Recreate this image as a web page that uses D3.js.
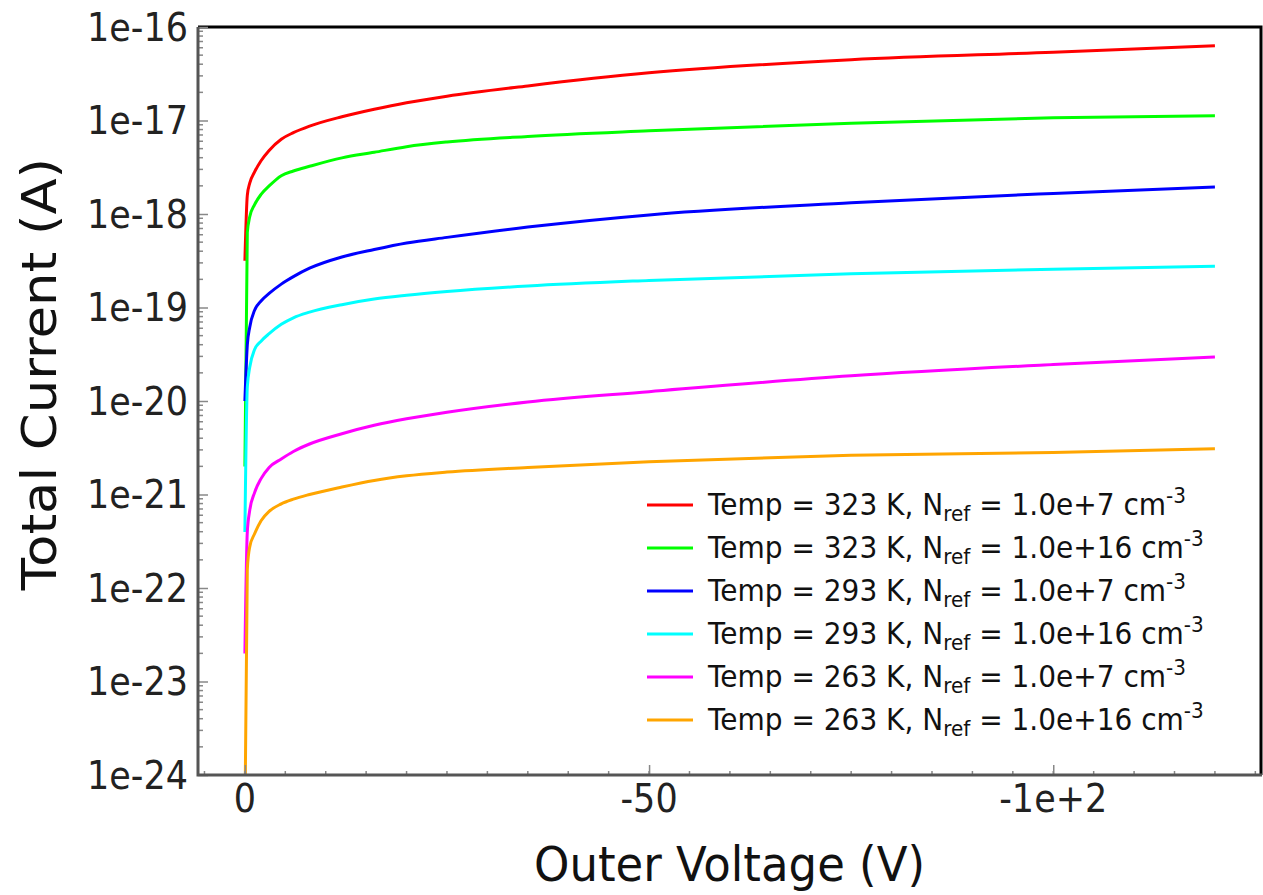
<!DOCTYPE html>
<html>
<head>
<meta charset="utf-8">
<script src="https://cdn.jsdelivr.net/npm/d3@7"></script>
<style>
  body { margin: 0; background: #fff; }
  text { font-family: "DejaVu Sans", sans-serif; }
</style>
</head>
<body>
<div id="chart"></div>
<script>
// outer voltage (V), shared by every curve
const voltage = [0, -0.3, -0.6, -1.2, -2, -3, -4.5, -6, -8, -12, -16, -20, -25, -35, -50, -75, -100, -120];

// log10 of the total current (A)
const t323_n7  = [-18.5, -17.8, -17.67, -17.55, -17.43, -17.32, -17.2, -17.13, -17.06, -16.96, -16.88, -16.81, -16.74, -16.63, -16.49, -16.35, -16.27, -16.2];
const t323_n16 = [-20.7, -18.2, -18.03, -17.9, -17.79, -17.7, -17.59, -17.54, -17.49, -17.4, -17.34, -17.28, -17.23, -17.17, -17.11, -17.03, -16.97, -16.95];
const t293_n7  = [-20.0, -19.4, -19.21, -19.03, -18.93, -18.85, -18.75, -18.67, -18.58, -18.46, -18.38, -18.31, -18.25, -18.14, -18.01, -17.88, -17.78, -17.71];
const t293_n16 = [-21.4, -19.85, -19.64, -19.45, -19.36, -19.28, -19.18, -19.11, -19.05, -18.97, -18.91, -18.87, -18.83, -18.77, -18.71, -18.64, -18.59, -18.56];
const t263_n7  = [-22.7, -21.4, -21.17, -20.98, -20.83, -20.71, -20.62, -20.54, -20.46, -20.35, -20.26, -20.19, -20.12, -20.01, -19.9, -19.73, -19.61, -19.53];
const t263_n16 = [-24.5, -21.8, -21.56, -21.42, -21.28, -21.18, -21.1, -21.05, -21.0, -20.92, -20.85, -20.8, -20.76, -20.71, -20.65, -20.58, -20.55, -20.51];

const temps = ["323", "323", "293", "293", "263", "263"];
const nrefs = ["1.0e+7", "1.0e+16", "1.0e+7", "1.0e+16", "1.0e+7", "1.0e+16"];
const colors = ["#ff0000", "#00ff00", "#0000ff", "#00ffff", "#ff00ff", "#ffa500"];
const seriesLogs = [t323_n7, t323_n16, t293_n7, t293_n16, t263_n7, t263_n16];

const yTickValues = [1e-24, 1e-23, 1e-22, 1e-21, 1e-20, 1e-19, 1e-18, 1e-17, 1e-16];
const yTickLabels = ["1e-24", "1e-23", "1e-22", "1e-21", "1e-20", "1e-19", "1e-18", "1e-17", "1e-16"];
const xTickValues = [0, -50, -100];
const xTickLabels = ["0", "-50", "-1e+2"];

const W = 1263, H = 895;
const plot = { left: 198, right: 1261, top: 27, bottom: 775 };
const stretch = 1.1; // text in the original is a bit taller than wide

const svg = d3.select("#chart").append("svg")
    .attr("width", W)
    .attr("height", H);

const x = d3.scaleLinear().domain([5.8, -125.7]).range([plot.left, plot.right]);
const y = d3.scaleLog().domain([1e-24, 1e-16]).range([plot.bottom, plot.top]);

svg.append("clipPath").attr("id", "clip")
    .append("rect")
    .attr("x", plot.left).attr("y", plot.top)
    .attr("width", plot.right - plot.left).attr("height", plot.bottom - plot.top);

// curves
const line = d3.line()
    .x(d => x(d.v))
    .y(d => y(d.i))
    .curve(d3.curveMonotoneX);

seriesLogs.forEach((logs, k) => {
    const pts = voltage.map((v, j) => ({ v: v, i: Math.pow(10, logs[j]) }));
    svg.append("path")
        .datum(pts)
        .attr("clip-path", "url(#clip)")
        .attr("fill", "none")
        .attr("stroke", colors[k])
        .attr("stroke-width", 3)
        .attr("d", line);
});

// frame: top & right in black
svg.append("path")
    .attr("d", `M${plot.left},${plot.top}H${plot.right}V${plot.bottom}`)
    .attr("fill", "none")
    .attr("stroke", "#000")
    .attr("stroke-width", 3);

// y minor ticks (log)
const yMinor = [];
for (let n = -24; n < -16; n++) {
    for (let k = 2; k <= 9; k++) yMinor.push(k * Math.pow(10, n));
}
svg.append("g").selectAll("line")
    .data(yMinor)
    .enter().append("line")
    .attr("x1", plot.left).attr("x2", plot.left + 5)
    .attr("y1", d => y(d)).attr("y2", d => y(d))
    .attr("stroke", "#888").attr("stroke-width", 1.5);

const yAxis = d3.axisRight(y)
    .tickValues(yTickValues)
    .tickSize(10)
    .tickFormat("");
svg.append("g")
    .attr("class", "y-axis")
    .attr("transform", "translate(" + plot.left + ",0)")
    .call(yAxis)
    .call(g => g.select(".domain").remove())
    .call(g => g.selectAll(".tick line").attr("stroke", "#888").attr("stroke-width", 1.5));

svg.append("g").selectAll("text")
    .data(yTickValues)
    .enter().append("text")
    .attr("transform", d => "translate(" + (plot.left - 10) + "," + y(d) + ") scale(1," + stretch + ")")
    .attr("dy", "0.36em")
    .attr("text-anchor", "end")
    .style("font-size", "35px")
    .attr("fill", "#222")
    .text((d, i) => yTickLabels[i]);

// x minor ticks every 5 V
const xMinor = d3.range(5, -126, -5);
svg.append("g").selectAll("line")
    .data(xMinor)
    .enter().append("line")
    .attr("x1", d => x(d)).attr("x2", d => x(d))
    .attr("y1", plot.bottom).attr("y2", plot.bottom - 4)
    .attr("stroke", "#888").attr("stroke-width", 1.5);

const xAxis = d3.axisTop(x)
    .tickValues(xTickValues)
    .tickSize(10)
    .tickFormat("");
svg.append("g")
    .attr("class", "x-axis")
    .attr("transform", "translate(0," + plot.bottom + ")")
    .call(xAxis)
    .call(g => g.select(".domain").remove())
    .call(g => g.selectAll(".tick line").attr("stroke", "#888").attr("stroke-width", 1.5));

svg.append("g").selectAll("text")
    .data(xTickValues)
    .enter().append("text")
    .attr("transform", d => "translate(" + x(d) + ",812) scale(1," + stretch + ")")
    .attr("text-anchor", "middle")
    .style("font-size", "35px")
    .attr("fill", "#222")
    .text((d, i) => xTickLabels[i]);

// left & bottom axis lines in grey
svg.append("path")
    .attr("d", `M${plot.left},${plot.top}V${plot.bottom}H${plot.right + 1}`)
    .attr("fill", "none")
    .attr("stroke", "#555")
    .attr("stroke-width", 3);

// axis titles
svg.append("text")
    .attr("transform", "translate(" + ((plot.left + plot.right) / 2) + ",881) scale(1,1.08)")
    .attr("text-anchor", "middle")
    .style("font-size", "45px")
    .attr("fill", "#111")
    .text("Outer Voltage (V)");

svg.append("text")
    .attr("transform", "translate(56,374) rotate(-90) scale(1.1,1)")
    .attr("text-anchor", "middle")
    .style("font-size", "48px")
    .attr("fill", "#111")
    .text("Total Current (A)");

// legend
const legend = svg.append("g").attr("transform", "translate(647,505)");
colors.forEach((c, k) => {
    const row = legend.append("g").attr("transform", "translate(0," + (k * 43) + ")");
    row.append("line")
        .attr("x1", 0).attr("x2", 46)
        .attr("y1", 0).attr("y2", 0)
        .attr("stroke", c).attr("stroke-width", 3);
    const t = row.append("text")
        .attr("transform", "translate(61,10) scale(1,1.05)")
        .style("font-size", "28px")
        .attr("fill", "#111");
    t.append("tspan").text("Temp = " + temps[k] + " K, N");
    t.append("tspan").attr("dy", 6).style("font-size", "20px").text("ref");
    t.append("tspan").attr("dy", -6).text(" = " + nrefs[k] + " cm");
    t.append("tspan").attr("dy", -11).style("font-size", "20px").text("-3");
});
</script>
</body>
</html>
